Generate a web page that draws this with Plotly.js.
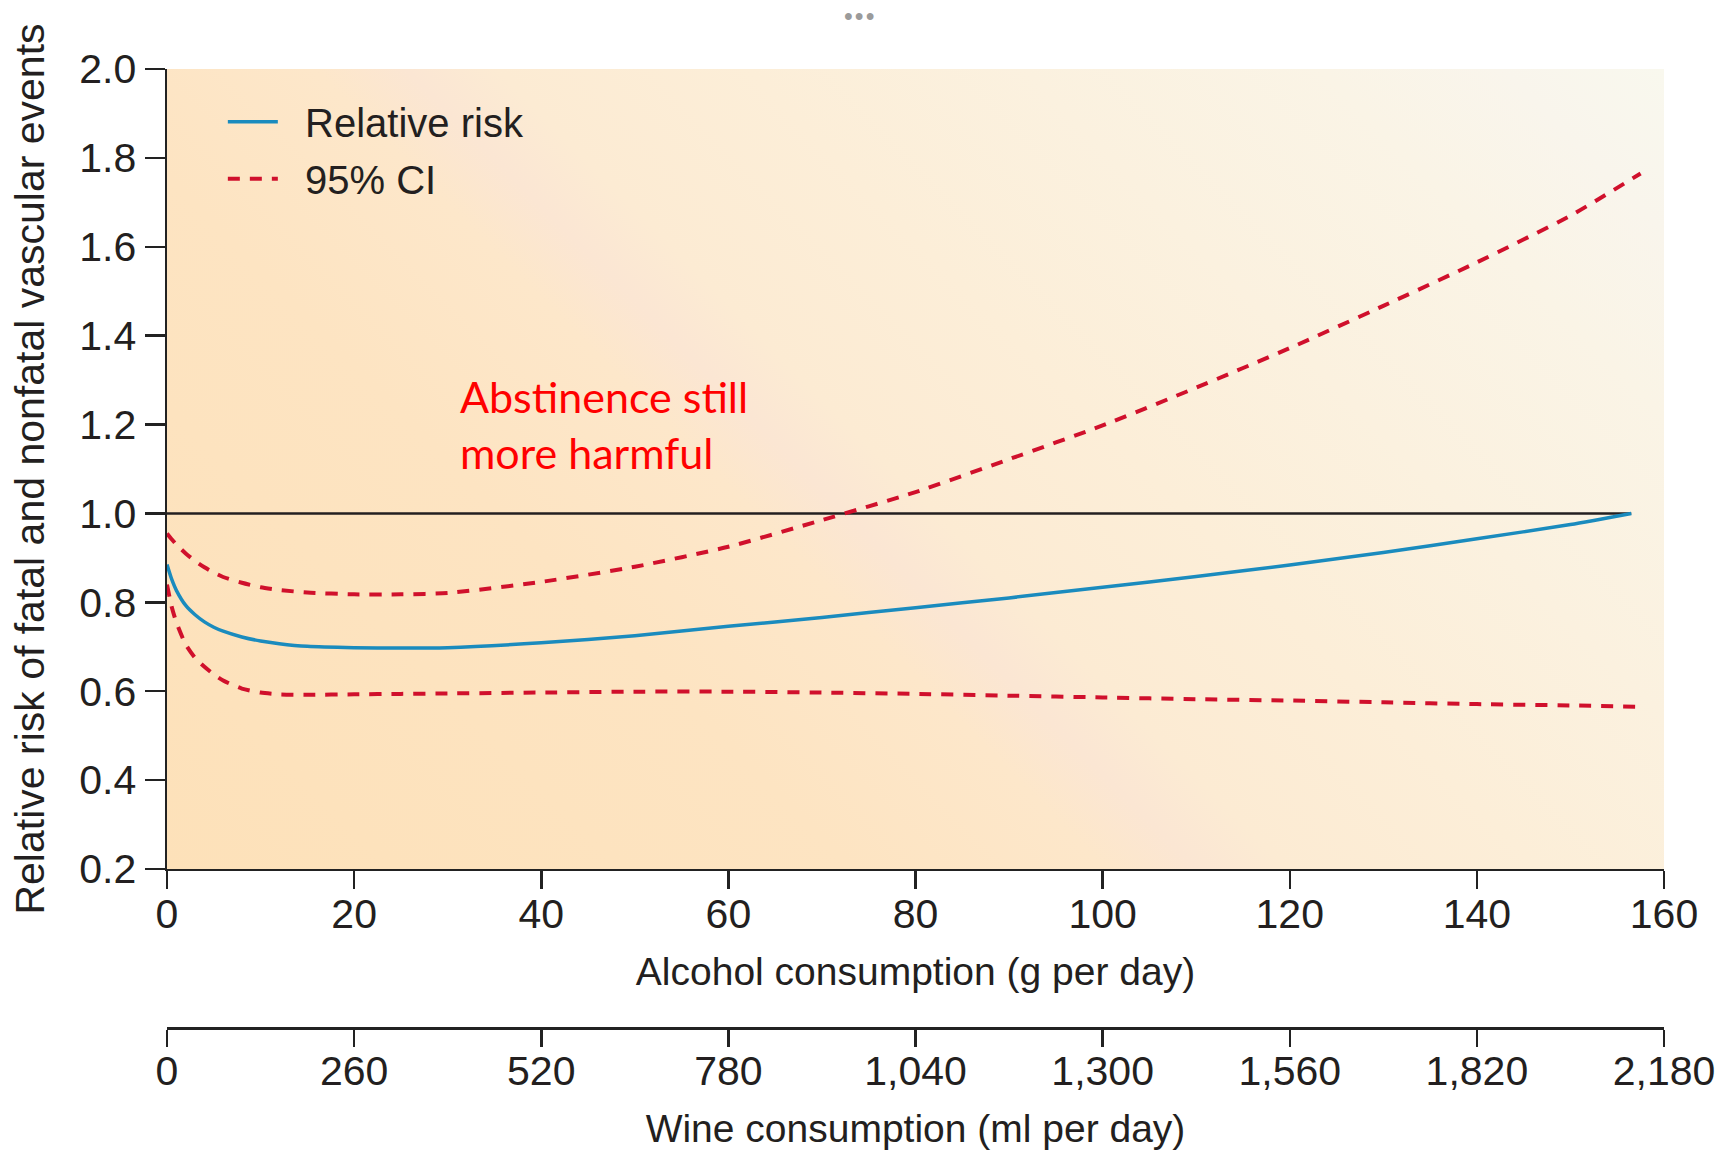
<!DOCTYPE html>
<html>
<head>
<meta charset="utf-8">
<script src="https://cdn.plot.ly/plotly-3.0.1.min.js"></script>
<style>
  html, body { margin: 0; padding: 0; background: #ffffff; }
  #chart { width: 1725px; height: 1150px; }
</style>
</head>
<body>
<div id="chart"></div>
<script>
// ---- Data ----
const rrAlcohol = [0, 0.5, 1, 2, 3, 4, 5, 6, 8, 10, 12, 15, 20, 25, 30, 40, 50, 60, 70, 80, 90, 100, 110, 120, 130, 140, 150, 156.5];
const rrValues  = [0.885, 0.852, 0.827, 0.793, 0.772, 0.756, 0.744, 0.735, 0.722, 0.713, 0.707, 0.701, 0.698, 0.697, 0.698, 0.709, 0.725, 0.746, 0.766, 0.788, 0.81, 0.834, 0.858, 0.884, 0.912, 0.943, 0.975, 1.0];

const ciAlcohol = [0, 0.5, 1, 2, 3, 4, 5, 6, 8, 10, 12, 15, 20, 25, 30, 40, 50, 60, 70, 80, 90, 100, 110, 120, 130, 140, 150, 157.5];
const ciUpper   = [0.955, 0.942, 0.93, 0.91, 0.893, 0.879, 0.867, 0.857, 0.844, 0.834, 0.828, 0.822, 0.818, 0.818, 0.821, 0.846, 0.88, 0.925, 0.985, 1.048, 1.122, 1.198, 1.283, 1.372, 1.467, 1.565, 1.67, 1.765];
const ciLower   = [0.84, 0.79, 0.755, 0.705, 0.675, 0.655, 0.638, 0.624, 0.606, 0.597, 0.593, 0.592, 0.593, 0.594, 0.595, 0.597, 0.599, 0.599, 0.597, 0.594, 0.59, 0.586, 0.582, 0.579, 0.575, 0.571, 0.568, 0.565];

const refAlcohol = [0, 156.5];
const refRisk    = [1.0, 1.0];

const alcoholTickVals = [0, 20, 40, 60, 80, 100, 120, 140, 160];
const wineTickVals    = [0, 260, 520, 780, 1040, 1300, 1560, 1820, 2080];
const wineTickText    = ['0', '260', '520', '780', '1,040', '1,300', '1,560', '1,820', '2,180'];
const riskTickVals    = [0.2, 0.4, 0.6, 0.8, 1.0, 1.2, 1.4, 1.6, 1.8, 2.0];

// ---- Styles ----
const TXT = '#231F20';
const AX = '#222222';
const BLUE = '#1A8BBE';
const RED = '#D0102C';
const FONT = '"Liberation Sans", Arial, Helvetica, sans-serif';
const NB = '\u00A0\u00A0';

// Background gradient (plot area)
const W = 1497, H = 800;
const bgSvg =
  '<svg xmlns="http://www.w3.org/2000/svg" width="' + W + '" height="' + H + '" viewBox="0 0 ' + W + ' ' + H + '" preserveAspectRatio="none">' +
  '<defs><linearGradient id="g" gradientUnits="userSpaceOnUse" x1="0" y1="' + H + '" x2="1157" y2="-344">' +
  '<stop offset="0" stop-color="#FDE1B9"/>' +
  '<stop offset="0.30" stop-color="#FDE4C2"/>' +
  '<stop offset="0.41" stop-color="#FDE7CA"/>' +
  '<stop offset="0.45" stop-color="#FBE6D3"/>' +
  '<stop offset="0.49" stop-color="#FCEBD3"/>' +
  '<stop offset="0.60" stop-color="#FCEED8"/>' +
  '<stop offset="0.72" stop-color="#FBF1DF"/>' +
  '<stop offset="0.85" stop-color="#FAF4E6"/>' +
  '<stop offset="0.93" stop-color="#F9F5EC"/>' +
  '<stop offset="1" stop-color="#F9F8EE"/>' +
  '</linearGradient></defs>' +
  '<rect x="0" y="0" width="' + W + '" height="' + H + '" fill="url(#g)"/></svg>';
const bgSrc = 'data:image/svg+xml;charset=utf-8,' + encodeURIComponent(bgSvg);

const traces = [
  {
    x: refAlcohol, y: refRisk, xaxis: 'x', yaxis: 'y',
    mode: 'lines', line: { color: TXT, width: 2.5 },
    showlegend: false, hoverinfo: 'skip'
  },
  {
    x: rrAlcohol, y: rrValues, xaxis: 'x', yaxis: 'y',
    name: NB + 'Relative risk', legendgroup: 'rr',
    mode: 'lines', line: { color: BLUE, width: 3.5, shape: 'spline', smoothing: 0.6 }
  },
  {
    x: ciAlcohol, y: ciUpper, xaxis: 'x', yaxis: 'y',
    name: NB + '95% CI', legendgroup: 'ci',
    mode: 'lines', line: { color: RED, width: 4, dash: '12px,10px', shape: 'spline', smoothing: 0.6 }
  },
  {
    x: ciAlcohol, y: ciLower, xaxis: 'x', yaxis: 'y',
    name: NB + '95% CI', legendgroup: 'ci', showlegend: false,
    mode: 'lines', line: { color: RED, width: 4, dash: '12px,10px', shape: 'spline', smoothing: 0.6 }
  },
  {
    x: [wineTickVals[0], wineTickVals[wineTickVals.length - 1]], y: [null, null],
    xaxis: 'x2', yaxis: 'y', mode: 'lines', showlegend: false, hoverinfo: 'skip'
  }
];

const axisCommon = {
  showline: true, linecolor: AX, linewidth: 2.5,
  ticks: 'outside', ticklen: 18, tickwidth: 2.5, tickcolor: AX,
  showgrid: false, zeroline: false,
  tickfont: { family: FONT, size: 41, color: TXT }
};

const layout = {
  width: 1725, height: 1150,
  margin: { l: 167, r: 61, t: 69, b: 122, pad: 0 },
  paper_bgcolor: '#ffffff',
  plot_bgcolor: '#FDE8C8',
  font: { family: FONT, color: TXT },
  showlegend: true,
  legend: {
    x: 0.0373, y: 0.979, xanchor: 'left', yanchor: 'top',
    bgcolor: 'rgba(0,0,0,0)', borderwidth: 0,
    font: { family: FONT, size: 40, color: TXT },
    traceorder: 'grouped', tracegroupgap: 2, itemwidth: 50
  },
  xaxis: Object.assign({}, axisCommon, {
    anchor: 'y', range: [0, 160], tickvals: alcoholTickVals, ticklabelstandoff: -11,
    title: { text: 'Alcohol consumption (g per day)', font: { family: FONT, size: 39, color: TXT }, standoff: 22 }
  }),
  xaxis2: Object.assign({}, axisCommon, {
    overlaying: 'x', anchor: 'free', position: 0, side: 'bottom',
    range: [0, 2080], tickvals: wineTickVals, ticktext: wineTickText, ticklen: 17, ticklabelstandoff: -11,
    title: { text: 'Wine consumption (ml per day)', font: { family: FONT, size: 39, color: TXT }, standoff: 33 }
  }),
  yaxis: Object.assign({}, axisCommon, {
    domain: [0.1658, 1], range: [0.2, 2.0], tickvals: riskTickVals, tickformat: '.1f', ticklen: 20,
    title: { text: 'Relative risk of fatal and nonfatal vascular events', font: { family: FONT, size: 41, color: TXT }, standoff: 22 }
  }),
  images: [{
    source: bgSrc, xref: 'x', yref: 'y', x: 0, y: 2.0, sizex: 160, sizey: 1.8,
    xanchor: 'left', yanchor: 'top', sizing: 'stretch', layer: 'below'
  }],
  annotations: [
    {
      text: 'Abstinence still<br>more harmful', xref: 'x', yref: 'y', x: 31.1, y: 1.2,
      xanchor: 'left', yanchor: 'middle', align: 'left', showarrow: false,
      font: { family: 'Lato, "Open Sans", sans-serif', size: 43, color: '#FF0000' }
    },
    {
      text: '•\u200A•\u200A•', xref: 'paper', yref: 'paper', x: 0.4623, y: 1.072,
      xanchor: 'center', yanchor: 'top', showarrow: false,
      font: { family: FONT, size: 25, color: '#9B9B9B' }
    }
  ]
};

Plotly.newPlot('chart', traces, layout, { displayModeBar: false, staticPlot: true });
</script>
</body>
</html>
